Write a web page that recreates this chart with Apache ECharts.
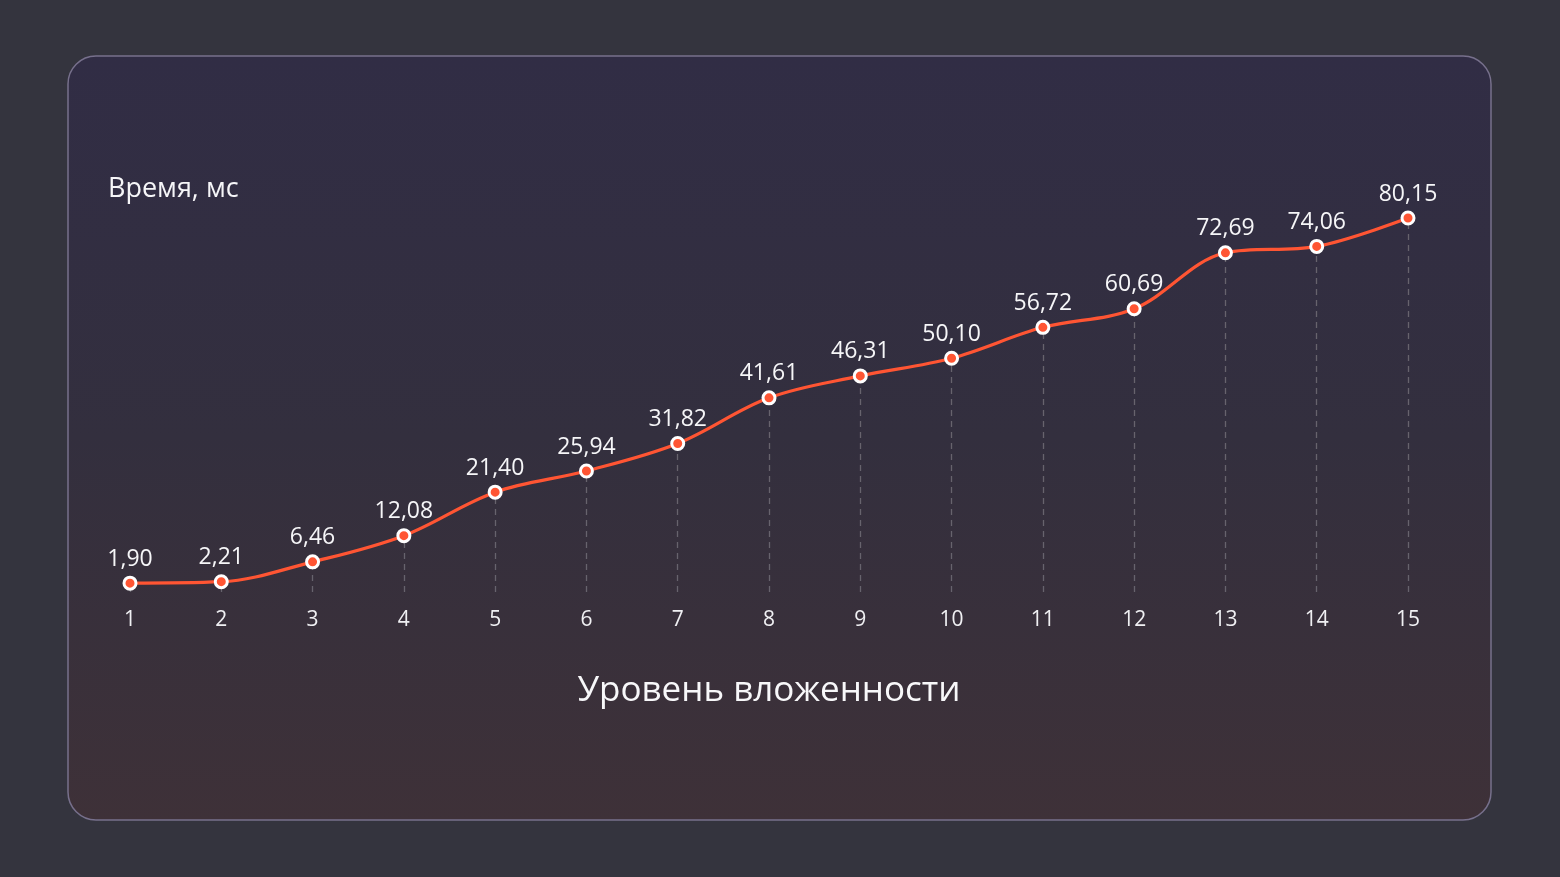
<!DOCTYPE html>
<html>
<head>
<meta charset="utf-8">
<script src="https://cdn.jsdelivr.net/npm/echarts@6/dist/echarts.min.js"></script>
<style>
  html, body { margin: 0; padding: 0; background: #34343e; }
  #chart { width: 1560px; height: 877px; }
</style>
</head>
<body>
<div id="chart"></div>
<script>
// данные графика
var levels = ['1', '2', '3', '4', '5', '6', '7', '8', '9', '10', '11', '12', '13', '14', '15'];
var timesMs = [1.90, 2.21, 6.46, 12.08, 21.40, 25.94, 31.82, 41.61, 46.31, 50.10, 56.72, 60.69, 72.69, 74.06, 80.15];
var yTitle = 'Время, мс';
var xTitle = 'Уровень вложенности';

var FONT = '"Open Sans", "Noto Sans", sans-serif';

function fmt(v) {
    return v.toFixed(2).replace('.', ',');
}

// вертикальные пунктирные линии от оси до точки
var dropLines = [];
levels.forEach(function (lvl, i) {
    dropLines.push([
        {coord: [lvl, 0]},
        {coord: [lvl, timesMs[i]]}
    ]);
});

var myChart = echarts.init(document.getElementById('chart'));
var option = {
    backgroundColor: '#34343e',
    animation: false,
    graphic: [
        {
            type: 'rect',
            z: -10,
            shape: {x: 68, y: 56, width: 1423, height: 764, r: 28},
            style: {
                fill: {
                    type: 'linear', x: 0, y: 0, x2: 0, y2: 1,
                    colorStops: [
                        {offset: 0, color: '#312d45'},
                        {offset: 0.5, color: '#332f3e'},
                        {offset: 1, color: '#3e3138'}
                    ]
                },
                stroke: '#77708c',
                lineWidth: 1.5
            }
        }
    ],
    title: {
        text: yTitle,
        left: 103,
        top: 171,
        textStyle: {
            color: '#f6f6f8',
            fontFamily: FONT,
            fontSize: 27,
            fontWeight: 'normal'
        }
    },
    grid: {
        left: 130,
        right: 152,
        top: 218,
        bottom: 285,
        containLabel: false
    },
    xAxis: {
        type: 'category',
        data: levels,
        boundaryGap: false,
        axisLine: {show: false},
        axisTick: {show: false},
        splitLine: {show: false},
        axisLabel: {
            color: '#f0f0f3',
            fontFamily: FONT,
            fontSize: 21,
            margin: 18
        },
        name: xTitle,
        nameLocation: 'middle',
        nameGap: 82,
        nameTextStyle: {
            color: '#f8f8fa',
            fontFamily: FONT,
            fontSize: 35
        }
    },
    yAxis: {
        type: 'value',
        min: 0,
        max: 'dataMax',
        show: false,
        splitLine: {show: false}
    },
    series: [
        {
            name: yTitle,
            type: 'line',
            data: timesMs,
            smooth: 0.35,
            symbol: 'circle',
            symbolSize: 12,
            lineStyle: {color: '#ff5533', width: 3.2},
            itemStyle: {color: '#ff5533', borderColor: '#ffffff', borderWidth: 3},
            label: {
                show: true,
                position: 'top',
                distance: 5,
                color: '#f6f6f8',
                fontFamily: FONT,
                fontSize: 23,
                formatter: function (p) { return fmt(p.value); }
            },
            markLine: {
                silent: true,
                symbol: ['none', 'none'],
                label: {show: false},
                lineStyle: {color: '#67636d', type: [6, 5], width: 1.3},
                z: 1,
                data: dropLines
            },
            z: 5
        }
    ]
};
myChart.setOption(option);
</script>
</body>
</html>
